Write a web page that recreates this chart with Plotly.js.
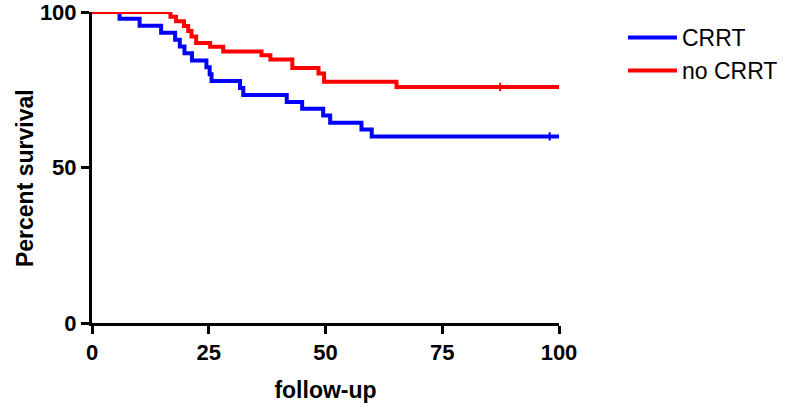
<!DOCTYPE html>
<html>
<head>
<meta charset="utf-8">
<script src="https://cdn.plot.ly/plotly-3.0.1.min.js"></script>
<style>
  html, body { margin: 0; padding: 0; background: #fff; }
  #chart { width: 793px; height: 407px; }
</style>
</head>
<body>
<div id="chart"></div>
<script>
// Kaplan-Meier steps (time of drop, survival after drop)
let crrtTime = [0, 5.9, 10.2, 14.8, 17.8, 18.8, 19.8, 21.4, 24.5, 25.2, 25.6, 31.7, 32.4, 41.7, 45.0, 49.5, 51.0, 57.7, 59.9, 100];
let crrtSurv = [100, 97.8, 95.6, 93.3, 91.1, 88.9, 86.7, 84.4, 82.2, 80.0, 77.8, 75.6, 73.3, 71.1, 68.9, 66.7, 64.4, 62.2, 60.0, 60.0];

let noCrrtTime = [0, 16.8, 18.0, 19.7, 20.6, 21.3, 22.3, 25.3, 28.1, 36.3, 38.2, 42.9, 48.5, 49.7, 65.2, 100];
let noCrrtSurv = [100, 98.5, 97.0, 95.5, 93.9, 92.1, 90.0, 88.8, 87.3, 86.1, 84.7, 82.0, 80.2, 77.6, 75.9, 75.9];

// censored observations
let crrtCensorTime = [98];
let crrtCensorSurv = [60.0];
let noCrrtCensorTime = [87.4];
let noCrrtCensorSurv = [75.9];

let xTicks = [0, 25, 50, 75, 100];
let yTicks = [0, 50, 100];

let blue = '#0000ff';
let red = '#ff0000';
let fontFamily = '"Liberation Sans", Arial, sans-serif';

let crrt = {
  x: crrtTime,
  y: crrtSurv,
  name: 'CRRT',
  mode: 'lines',
  line: { color: blue, width: 4, shape: 'hv' },
  cliponaxis: false
};

let noCrrt = {
  x: noCrrtTime,
  y: noCrrtSurv,
  name: 'no CRRT',
  mode: 'lines',
  line: { color: red, width: 4, shape: 'hv' },
  cliponaxis: false
};

let crrtCensor = {
  x: crrtCensorTime,
  y: crrtCensorSurv,
  mode: 'markers',
  showlegend: false,
  hoverinfo: 'skip',
  marker: { symbol: 'line-ns', size: 6, line: { color: blue, width: 2 } },
  cliponaxis: false
};

let noCrrtCensor = {
  x: noCrrtCensorTime,
  y: noCrrtCensorSurv,
  mode: 'markers',
  showlegend: false,
  hoverinfo: 'skip',
  marker: { symbol: 'line-ns', size: 6, line: { color: red, width: 2 } },
  cliponaxis: false
};

let data = [crrt, noCrrt, crrtCensor, noCrrtCensor];

let layout = {
  width: 793,
  height: 407,
  margin: { l: 92, r: 234, t: 12, b: 84, autoexpand: false },
  paper_bgcolor: '#fff',
  plot_bgcolor: '#fff',
  font: { family: fontFamily, color: '#000' },
  showlegend: true,
  legend: {
    x: 1.137,
    y: 0.987,
    xanchor: 'left',
    yanchor: 'top',
    itemwidth: 49,
    font: { family: fontFamily, size: 23, color: '#000' },
    tracegroupgap: 0
  },
  xaxis: {
    range: [0, 100],
    tickvals: xTicks,
    ticktext: xTicks.map(String),
    ticks: 'outside',
    ticklen: 8,
    tickwidth: 3,
    tickcolor: '#000',
    showline: true,
    linewidth: 3,
    linecolor: '#000',
    showgrid: false,
    zeroline: false,
    automargin: false,
    ticklabeloverflow: 'allow',
    tickfont: { family: fontFamily, size: 22, weight: 'bold', color: '#000' },
    title: { text: 'follow-up', font: { family: fontFamily, size: 23, weight: 'bold', color: '#000' }, standoff: 18 }
  },
  yaxis: {
    range: [0, 100],
    tickvals: yTicks,
    ticktext: yTicks.map(String),
    ticks: 'outside',
    ticklen: 8,
    tickwidth: 3,
    tickcolor: '#000',
    showline: true,
    linewidth: 3,
    linecolor: '#000',
    showgrid: false,
    zeroline: false,
    automargin: false,
    ticklabeloverflow: 'allow',
    tickfont: { family: fontFamily, size: 22, weight: 'bold', color: '#000' }
  },
  annotations: [{
    text: 'Percent survival',
    xref: 'paper',
    yref: 'paper',
    x: -0.1435,
    y: 0.466,
    xanchor: 'center',
    yanchor: 'middle',
    textangle: -90,
    showarrow: false,
    font: { family: fontFamily, size: 23, weight: 'bold', color: '#000' }
  }]
};

Plotly.newPlot('chart', data, layout, { displayModeBar: false, staticPlot: true });
</script>
</body>
</html>
